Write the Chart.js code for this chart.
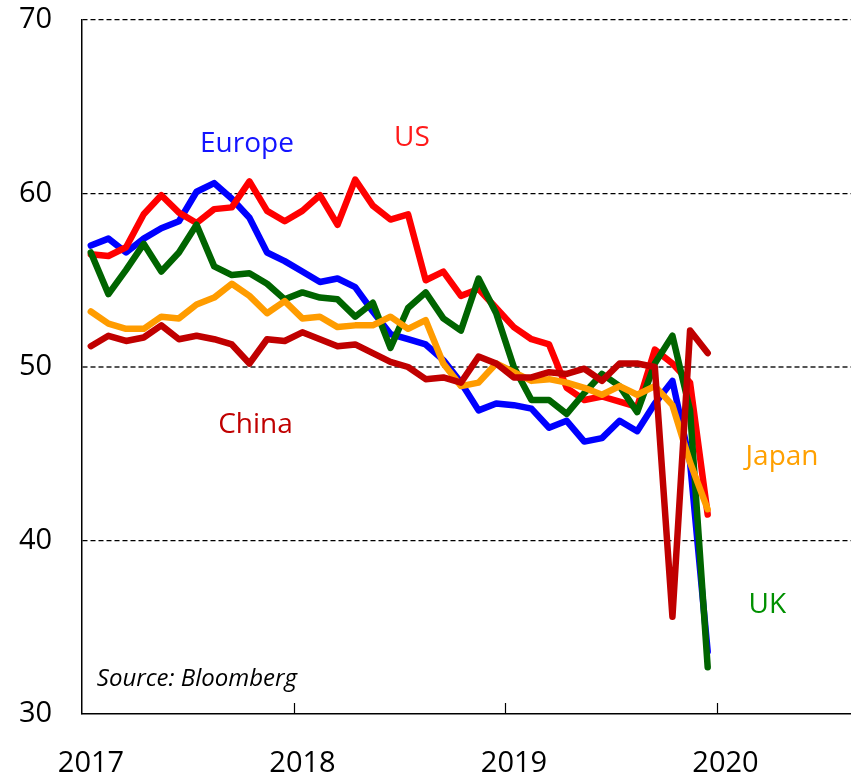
<!DOCTYPE html>
<html>
<head>
<meta charset="utf-8">
<script src="https://cdn.jsdelivr.net/npm/chart.js@4"></script>
<style>
  html, body { margin: 0; padding: 0; background: #fff; overflow: hidden; }
  #pmiChart { display: block; }
</style>
</head>
<body>
<canvas id="pmiChart" width="851" height="776"></canvas>
<script>
// monthly readings, May 2017 .. Apr 2020
const months = [
  "May-17","Jun-17","Jul-17","Aug-17","Sep-17","Oct-17","Nov-17","Dec-17",
  "Jan-18","Feb-18","Mar-18","Apr-18","May-18","Jun-18","Jul-18","Aug-18",
  "Sep-18","Oct-18","Nov-18","Dec-18","Jan-19","Feb-19","Mar-19","Apr-19",
  "May-19","Jun-19","Jul-19","Aug-19","Sep-19","Oct-19","Nov-19","Dec-19",
  "Jan-20","Feb-20","Mar-20","Apr-20"
];

const europe = [57.0, 57.4, 56.6, 57.4, 58.0, 58.4, 60.1, 60.6, 59.7, 58.6, 56.6, 56.1,
  55.5, 54.9, 55.1, 54.6, 53.2, 51.9, 51.6, 51.3, 50.4, 49.1, 47.5, 47.9,
  47.8, 47.6, 46.5, 46.9, 45.7, 45.9, 46.9, 46.3, 47.9, 49.2, 44.5, 33.6];

const us = [56.5, 56.4, 56.9, 58.8, 59.9, 58.9, 58.3, 59.1, 59.2, 60.7, 59.0, 58.4,
  59.0, 59.9, 58.2, 60.8, 59.3, 58.5, 58.8, 55.0, 55.5, 54.1, 54.5, 53.4,
  52.3, 51.6, 51.3, 48.8, 48.1, 48.3, 48.0, 47.7, 51.0, 50.2, 49.1, 41.5];

const uk = [56.6, 54.2, 55.6, 57.1, 55.5, 56.6, 58.2, 55.8, 55.3, 55.4, 54.8, 53.9,
  54.3, 54.0, 53.9, 52.9, 53.7, 51.1, 53.4, 54.3, 52.8, 52.1, 55.1, 53.1,
  50.0, 48.1, 48.1, 47.3, 48.5, 49.6, 48.9, 47.4, 50.2, 51.8, 47.5, 32.7];

const japan = [53.2, 52.5, 52.2, 52.2, 52.9, 52.8, 53.6, 54.0, 54.8, 54.1, 53.1, 53.8,
  52.8, 52.9, 52.3, 52.4, 52.4, 52.9, 52.2, 52.7, 50.2, 48.9, 49.1, 50.2,
  49.7, 49.2, 49.3, 49.1, 48.8, 48.4, 48.9, 48.4, 48.9, 47.8, 44.5, 41.8];

const china = [51.2, 51.8, 51.5, 51.7, 52.4, 51.6, 51.8, 51.6, 51.3, 50.2, 51.6, 51.5,
  52.0, 51.6, 51.2, 51.3, 50.8, 50.3, 50.0, 49.3, 49.4, 49.1, 50.6, 50.2,
  49.4, 49.4, 49.7, 49.6, 49.9, 49.2, 50.2, 50.2, 50.0, 35.6, 52.1, 50.8];

const yearTicks = [2017, 2018, 2019, 2020];
const valueTicks = [30, 40, 50, 60, 70];

// series name labels placed in data units
const seriesLabels = [
  { text: "Europe", x: 2017.78, y: 62.4, color: "#1414ff" },
  { text: "US", x: 2018.56, y: 62.75, color: "#ff1a1a" },
  { text: "China", x: 2017.82, y: 46.2, color: "#c00000" },
  { text: "Japan", x: 2020.31, y: 44.35, color: "#ffa000" },
  { text: "UK", x: 2020.24, y: 35.8, color: "#009000" }
];

const FONT = "'Open Sans', 'Noto Sans', sans-serif";

function series(values) {
  // each month sits in the middle of its slot
  return values.map((v, i) => ({ x: 2017 + (i + 0.5) / 12, y: v }));
}

function line(label, values, color) {
  return {
    label: label,
    data: series(values),
    borderColor: color,
    backgroundColor: color,
    borderWidth: 6.5,
    pointRadius: 0,
    tension: 0,
    borderJoinStyle: "round",
    borderCapStyle: "round",
    fill: false
  };
}

// inside tick marks on the x axis and the text labels
const extras = {
  id: "extras",
  afterDraw(chart) {
    const ctx = chart.ctx;
    const xs = chart.scales.x;
    const ys = chart.scales.y;
    const bottom = chart.chartArea.bottom;

    ctx.save();
    ctx.strokeStyle = "#000";
    ctx.lineWidth = 1.2;
    yearTicks.slice(1).forEach(yr => {
      const px = Math.round(xs.getPixelForValue(yr)) + 0.5;
      ctx.beginPath();
      ctx.moveTo(px, bottom);
      ctx.lineTo(px, bottom - 11);
      ctx.stroke();
    });

    ctx.textAlign = "center";
    ctx.textBaseline = "alphabetic";
    ctx.font = "28px " + FONT;
    seriesLabels.forEach(l => {
      ctx.fillStyle = l.color;
      ctx.fillText(l.text, xs.getPixelForValue(l.x), ys.getPixelForValue(l.y));
    });

    ctx.textAlign = "left";
    ctx.fillStyle = "#000";
    ctx.font = "italic 24px " + FONT;
    ctx.fillText("Source: Bloomberg", xs.getPixelForValue(2017.07), ys.getPixelForValue(31.6));
    ctx.restore();
  }
};

Chart.defaults.font.family = FONT;
Chart.defaults.color = "#000";

new Chart(document.getElementById("pmiChart"), {
  type: "line",
  data: {
    datasets: [
      line("China", china, "#c00000"),
      line("Japan", japan, "#ff9c00"),
      line("UK", uk, "#006400"),
      line("US", us, "#ff0000"),
      line("Europe", europe, "#0000ff")
    ]
  },
  options: {
    responsive: false,
    devicePixelRatio: 1,
    animation: false,
    layout: { padding: { top: 20, right: 0, left: 19, bottom: 0 } },
    plugins: {
      legend: { display: false },
      tooltip: { enabled: false }
    },
    scales: {
      x: {
        type: "linear",
        min: 2017,
        max: 2017 + (851 - 82) / 211.5,
        afterBuildTicks: s => { s.ticks = yearTicks.map(v => ({ value: v })); },
        afterFit: s => { s.height = 62; },
        grid: { display: false, drawTicks: false },
        border: { display: true, color: "#000", width: 1.5 },
        ticks: {
          font: { size: 29 },
          padding: 32,
          labelOffset: 9,
          maxRotation: 0,
          callback: v => String(v)
        }
      },
      y: {
        min: 30,
        max: 70,
        afterBuildTicks: s => { s.ticks = valueTicks.map(v => ({ value: v })); },
        afterFit: s => { s.width = 63; },
        grid: {
          drawTicks: false,
          color: c => c.tick.value === 30 ? "rgba(0,0,0,0)" : (c.tick.value === 50 ? "#555" : "#000"),
          lineWidth: c => c.tick.value === 50 ? 2 : 1.2
        },
        border: { display: true, color: "#000", width: 1.5, dash: [5, 3] },
        ticks: {
          font: { size: 29 },
          padding: 0,
          crossAlign: "far"
        }
      }
    }
  },
  plugins: [extras]
});
</script>
</body>
</html>
